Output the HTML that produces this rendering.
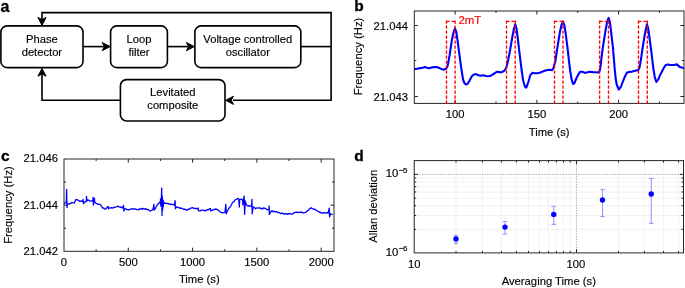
<!DOCTYPE html>
<html><head><meta charset="utf-8"><style>
html,body{margin:0;padding:0;background:#fff;width:685px;height:288px;overflow:hidden}
svg{display:block;will-change:transform}
text{font-family:"Liberation Sans", sans-serif;}
</style></head><body>
<svg width="685" height="288" viewBox="0 0 685 288">
<text x="0.5" y="11.5" font-size="16" text-anchor="start" font-weight="bold" fill="#000" stroke="#000" stroke-width="0.3" >a</text>
<text x="354.3" y="11" font-size="15.5" text-anchor="start" font-weight="bold" fill="#000" stroke="#000" stroke-width="0.3" >b</text>
<text x="0.9" y="161" font-size="15.5" text-anchor="start" font-weight="bold" fill="#000" stroke="#000" stroke-width="0.3" >c</text>
<text x="354.3" y="161" font-size="15.5" text-anchor="start" font-weight="bold" fill="#000" stroke="#000" stroke-width="0.3" >d</text>
<polyline points="42,25.9 42,12.6 331.1,12.6 331.1,100.3 233,100.3" fill="none" stroke="#000" stroke-width="1.6"/>
<line x1="300.8" y1="46.6" x2="331.1" y2="46.6" stroke="#000" stroke-width="1.6" />
<polyline points="120.4,100.3 42,100.3 42,74" fill="none" stroke="#000" stroke-width="1.6"/>
<line x1="83" y1="46.6" x2="104" y2="46.6" stroke="#000" stroke-width="1.6" />
<line x1="167.4" y1="46.6" x2="188" y2="46.6" stroke="#000" stroke-width="1.6" />
<rect x="0.9" y="25.9" width="82.1" height="41.699999999999996" rx="6.2" ry="6.2" fill="#fff" stroke="#000" stroke-width="1.6"/>
<rect x="110.6" y="25.9" width="56.80000000000001" height="41.699999999999996" rx="6.2" ry="6.2" fill="#fff" stroke="#000" stroke-width="1.6"/>
<rect x="194.9" y="25.9" width="105.9" height="41.699999999999996" rx="6.2" ry="6.2" fill="#fff" stroke="#000" stroke-width="1.6"/>
<rect x="120.4" y="79.6" width="104.6" height="41.400000000000006" rx="6.2" ry="6.2" fill="#fff" stroke="#000" stroke-width="1.6"/>
<polygon points="42.00,25.20 37.90,17.40 42.00,19.60 46.10,17.40" fill="#000" stroke="#000" stroke-width="1" stroke-linejoin="miter"/>
<polygon points="42.00,68.40 37.90,76.20 42.00,74.00 46.10,76.20" fill="#000" stroke="#000" stroke-width="1" stroke-linejoin="miter"/>
<polygon points="110.00,46.60 102.20,42.50 104.40,46.60 102.20,50.70" fill="#000" stroke="#000" stroke-width="1" stroke-linejoin="miter"/>
<polygon points="194.20,46.60 186.40,42.50 188.60,46.60 186.40,50.70" fill="#000" stroke="#000" stroke-width="1" stroke-linejoin="miter"/>
<polygon points="225.70,100.30 233.50,96.20 231.30,100.30 233.50,104.40" fill="#000" stroke="#000" stroke-width="1" stroke-linejoin="miter"/>
<text x="41.9" y="42.5" font-size="11.2" text-anchor="middle" font-weight="normal" fill="#000" stroke="#000" stroke-width="0.15" >Phase</text>
<text x="41.9" y="55.6" font-size="11.2" text-anchor="middle" font-weight="normal" fill="#000" stroke="#000" stroke-width="0.15" >detector</text>
<text x="139.0" y="42.5" font-size="11.2" text-anchor="middle" font-weight="normal" fill="#000" stroke="#000" stroke-width="0.15" >Loop</text>
<text x="139.0" y="55.6" font-size="11.2" text-anchor="middle" font-weight="normal" fill="#000" stroke="#000" stroke-width="0.15" >filter</text>
<text x="247.8" y="42.5" font-size="11.2" text-anchor="middle" font-weight="normal" fill="#000" stroke="#000" stroke-width="0.15" >Voltage controlled</text>
<text x="247.8" y="55.6" font-size="11.2" text-anchor="middle" font-weight="normal" fill="#000" stroke="#000" stroke-width="0.15" >oscillator</text>
<text x="172.8" y="95.9" font-size="11.2" text-anchor="middle" font-weight="normal" fill="#000" stroke="#000" stroke-width="0.15" >Levitated</text>
<text x="172.8" y="108.9" font-size="11.2" text-anchor="middle" font-weight="normal" fill="#000" stroke="#000" stroke-width="0.15" >composite</text>
<clipPath id="cb"><rect x="414" y="11" width="270" height="92.4"/></clipPath>
<polyline points="414.00,69.20 417.00,68.70 420.30,68.10 422.80,67.70 424.90,67.00 427.00,67.70 429.10,68.30 431.60,67.50 434.10,67.10 436.60,67.00 438.70,67.70 441.20,68.90 443.25,69.60 444.90,69.30 446.30,68.50 447.40,66.50 448.10,63.50 449.50,56.00 451.90,40.00 453.50,32.50 455.00,28.30 456.30,32.00 457.50,40.00 459.60,56.00 460.60,63.50 461.90,72.25 463.10,79.75 464.40,83.00 465.90,84.50 467.50,84.00 469.40,81.00 470.10,79.50 472.20,75.75 474.25,74.30 476.30,74.30 478.40,75.20 480.50,75.75 483.40,75.30 485.90,76.00 488.00,76.30 490.10,76.00 492.20,74.90 494.70,73.25 496.75,71.80 498.80,72.00 500.90,72.40 503.00,71.60 505.00,70.10 506.50,67.00 507.75,62.00 509.00,55.75 509.75,52.00 512.50,36.00 514.00,28.50 515.25,24.30 516.50,28.50 517.50,36.00 519.40,52.00 520.60,62.00 521.90,72.00 523.10,80.10 524.40,85.10 525.50,87.50 526.30,87.50 527.50,84.50 528.40,81.70 529.40,78.25 530.10,75.40 532.60,72.70 534.70,73.20 537.20,73.30 539.70,72.70 542.20,71.70 544.70,70.80 547.60,70.00 550.10,69.80 552.20,70.20 553.40,68.30 554.70,63.30 555.25,61.90 556.10,56.25 557.00,50.00 559.90,32.00 561.50,25.00 563.00,21.50 564.30,25.00 565.50,32.00 567.75,50.00 569.00,61.25 570.25,71.25 571.50,78.75 573.00,84.00 574.25,83.50 576.20,78.75 578.25,74.60 580.30,71.70 582.40,71.80 584.90,72.90 587.40,72.30 589.50,71.80 592.80,72.10 596.20,72.30 598.70,72.50 599.90,70.00 600.75,65.00 601.50,57.40 602.75,48.00 605.60,30.00 607.20,21.50 608.60,17.90 609.80,21.50 610.90,30.00 613.00,48.00 614.00,60.50 614.80,70.00 615.60,78.00 616.70,84.50 618.75,89.50 620.80,87.00 622.90,81.50 625.00,76.25 627.10,72.60 629.20,71.90 632.30,71.60 635.10,70.75 638.25,70.10 639.50,67.60 640.50,62.00 641.40,56.40 642.00,52.00 644.50,36.00 646.00,28.50 647.00,24.30 648.20,28.50 649.25,36.00 651.40,52.00 652.40,60.75 653.50,69.50 654.75,77.00 656.40,82.00 658.25,79.50 660.10,75.10 662.00,71.40 663.90,67.60 665.75,65.10 668.00,64.50 670.30,65.00 674.00,65.00 676.80,64.40 679.70,66.90 682.50,67.80 684.00,68.00" fill="none" stroke="#0000ff" stroke-width="2.1" stroke-linejoin="round" stroke-linecap="round" clip-path="url(#cb)"/>
<rect x="414.3" y="11.0" width="269.7" height="92.4" fill="none" stroke="#262626" stroke-width="1"/>
<line x1="455.1636363636364" y1="103.4" x2="455.1636363636364" y2="99.80000000000001" stroke="#262626" stroke-width="1" />
<line x1="455.1636363636364" y1="11.0" x2="455.1636363636364" y2="14.6" stroke="#262626" stroke-width="1" />
<line x1="496.02727272727276" y1="103.4" x2="496.02727272727276" y2="101.4" stroke="#262626" stroke-width="1" />
<line x1="496.02727272727276" y1="11.0" x2="496.02727272727276" y2="13.0" stroke="#262626" stroke-width="1" />
<line x1="536.8909090909091" y1="103.4" x2="536.8909090909091" y2="99.80000000000001" stroke="#262626" stroke-width="1" />
<line x1="536.8909090909091" y1="11.0" x2="536.8909090909091" y2="14.6" stroke="#262626" stroke-width="1" />
<line x1="577.7545454545455" y1="103.4" x2="577.7545454545455" y2="101.4" stroke="#262626" stroke-width="1" />
<line x1="577.7545454545455" y1="11.0" x2="577.7545454545455" y2="13.0" stroke="#262626" stroke-width="1" />
<line x1="618.6181818181818" y1="103.4" x2="618.6181818181818" y2="99.80000000000001" stroke="#262626" stroke-width="1" />
<line x1="618.6181818181818" y1="11.0" x2="618.6181818181818" y2="14.6" stroke="#262626" stroke-width="1" />
<line x1="659.4818181818182" y1="103.4" x2="659.4818181818182" y2="101.4" stroke="#262626" stroke-width="1" />
<line x1="659.4818181818182" y1="11.0" x2="659.4818181818182" y2="13.0" stroke="#262626" stroke-width="1" />
<line x1="414.3" y1="25.5" x2="417.90000000000003" y2="25.5" stroke="#262626" stroke-width="1" />
<line x1="684.0" y1="25.5" x2="680.4" y2="25.5" stroke="#262626" stroke-width="1" />
<line x1="414.3" y1="60.5" x2="416.3" y2="60.5" stroke="#262626" stroke-width="1" />
<line x1="684.0" y1="60.5" x2="682.0" y2="60.5" stroke="#262626" stroke-width="1" />
<line x1="414.3" y1="96.5" x2="417.90000000000003" y2="96.5" stroke="#262626" stroke-width="1" />
<line x1="684.0" y1="96.5" x2="680.4" y2="96.5" stroke="#262626" stroke-width="1" />
<path d="M446.5,20.6 L446.5,103.4 M446.5,21.3 L455.1,21.3 M455.1,20.6 L455.1,103.4" fill="none" stroke="#ff0000" stroke-width="1.35" stroke-dasharray="3.1,1.9"/>
<path d="M506.5,20.6 L506.5,103.4 M506.5,21.3 L515.2,21.3 M515.2,20.6 L515.2,103.4" fill="none" stroke="#ff0000" stroke-width="1.35" stroke-dasharray="3.1,1.9"/>
<path d="M554.5,20.6 L554.5,103.4 M554.5,21.3 L563.0,21.3 M563.0,20.6 L563.0,103.4" fill="none" stroke="#ff0000" stroke-width="1.35" stroke-dasharray="3.1,1.9"/>
<path d="M599.6,20.6 L599.6,103.4 M599.6,21.3 L608.5,21.3 M608.5,20.6 L608.5,103.4" fill="none" stroke="#ff0000" stroke-width="1.35" stroke-dasharray="3.1,1.9"/>
<path d="M638.5,20.6 L638.5,103.4 M638.5,21.3 L647.3,21.3 M647.3,20.6 L647.3,103.4" fill="none" stroke="#ff0000" stroke-width="1.35" stroke-dasharray="3.1,1.9"/>
<text x="408" y="30.0" font-size="11.25" text-anchor="end" font-weight="normal" fill="#000" stroke="#000" stroke-width="0.15" >21.044</text>
<text x="408" y="101.0" font-size="11.25" text-anchor="end" font-weight="normal" fill="#000" stroke="#000" stroke-width="0.15" >21.043</text>
<text x="455.1636363636364" y="118.0" font-size="11.25" text-anchor="middle" font-weight="normal" fill="#000" stroke="#000" stroke-width="0.15" >100</text>
<text x="536.8909090909091" y="118.0" font-size="11.25" text-anchor="middle" font-weight="normal" fill="#000" stroke="#000" stroke-width="0.15" >150</text>
<text x="618.6181818181818" y="118.0" font-size="11.25" text-anchor="middle" font-weight="normal" fill="#000" stroke="#000" stroke-width="0.15" >200</text>
<text x="549.2" y="135.8" font-size="11.25" text-anchor="middle" font-weight="normal" fill="#000" stroke="#000" stroke-width="0.15" >Time (s)</text>
<text x="0" y="0" font-size="11.25" text-anchor="middle" font-weight="normal" fill="#000" stroke="#000" stroke-width="0.15" transform="translate(362,56.5) rotate(-90)">Frequency (Hz)</text>
<text x="458.4" y="23.7" font-size="11.4" text-anchor="start" font-weight="normal" fill="#ff0000" stroke="#ff0000" stroke-width="0.15" >2mT</text>
<polyline points="64.40,203.75 65.25,202.50 66.30,202.80 66.60,189.40 67.00,207.50 67.60,204.40 68.40,203.99 69.20,203.58 70.00,203.75 70.83,203.50 71.67,202.45 72.50,202.50 73.45,202.84 74.40,203.10 75.60,199.75 76.43,199.77 77.27,199.60 78.10,200.25 79.05,200.88 80.00,201.50 80.83,200.91 81.67,201.26 82.50,201.25 83.10,199.40 83.50,203.70 84.40,202.50 85.35,201.53 86.30,201.50 86.50,196.50 87.00,200.80 87.50,200.25 88.28,199.99 89.05,200.54 89.82,201.17 90.60,201.00 91.33,200.75 92.07,201.03 92.80,201.50 93.10,197.50 93.40,205.00 94.10,200.00 94.40,198.10 94.80,202.50 95.60,203.10 96.55,203.57 97.50,203.75 98.33,204.46 99.17,204.27 100.00,204.40 100.95,205.54 101.90,206.90 102.73,208.12 103.57,207.80 104.40,209.00 105.33,209.14 106.25,208.50 107.17,207.27 108.10,206.50 108.60,208.80 109.30,208.06 110.00,208.10 110.83,207.61 111.67,207.76 112.50,207.90 113.33,208.03 114.17,207.12 115.00,207.25 115.83,207.01 116.67,206.74 117.50,206.25 118.33,206.44 119.17,206.97 120.00,207.25 120.83,207.05 121.67,207.33 122.50,208.10 123.50,205.50 123.90,211.00 124.50,209.00 125.38,208.73 126.25,209.10 127.08,209.60 127.92,209.62 128.75,210.00 129.54,209.48 130.32,209.47 131.11,209.01 131.90,208.75 132.68,208.59 133.45,209.20 134.22,209.16 135.00,209.00 135.83,208.97 136.67,209.58 137.50,209.75 138.33,209.44 139.17,209.50 140.00,208.75 140.75,209.00 141.50,208.52 142.25,209.28 143.00,208.33 143.75,208.75 144.50,208.83 145.25,209.37 146.00,208.88 146.75,209.42 147.50,209.60 148.28,209.44 149.05,210.49 149.82,210.94 150.60,211.00 151.43,210.41 152.27,210.08 153.10,209.00 153.90,204.40 154.30,210.00 155.60,208.10 156.55,206.05 157.50,204.40 158.45,203.66 159.40,202.50 160.20,202.80 160.50,199.00 160.80,206.00 161.25,202.50 161.70,188.10 162.00,215.60 162.30,196.00 162.60,210.00 163.00,200.00 163.30,206.50 163.50,201.00 163.75,203.50 165.00,203.10 165.83,203.34 166.67,203.45 167.50,203.50 168.33,203.62 169.17,204.21 170.00,204.00 170.83,204.62 171.67,204.24 172.50,204.40 173.45,204.88 174.40,205.00 175.10,200.60 175.40,208.75 176.15,207.34 176.90,206.90 177.68,207.33 178.45,207.49 179.22,208.08 180.00,207.75 180.78,208.42 181.55,208.14 182.32,208.56 183.10,209.00 183.86,209.44 184.62,208.97 185.38,209.71 186.14,209.63 186.90,210.25 187.68,209.45 188.45,209.01 189.22,209.42 190.00,208.75 190.83,208.01 191.67,207.81 192.50,207.75 193.33,207.88 194.17,208.66 195.00,208.50 195.70,208.16 196.40,208.69 197.10,208.93 197.80,209.00 198.10,207.80 198.40,210.60 199.11,210.93 199.82,210.78 200.54,210.74 201.25,210.25 202.00,210.04 202.75,210.22 203.50,210.18 204.25,210.79 205.00,210.40 205.78,210.80 206.55,209.82 207.32,209.74 208.10,210.00 208.90,209.21 209.70,208.71 210.50,208.50 210.80,211.00 211.65,210.48 212.50,210.00 213.33,209.90 214.17,209.34 215.00,209.40 215.83,208.92 216.67,209.44 217.50,209.60 218.33,210.09 219.17,210.94 220.00,211.50 220.83,212.42 221.67,212.54 222.50,212.75 223.33,212.60 224.17,212.55 225.00,212.25 225.80,204.40 226.20,213.75 227.50,210.60 228.33,209.56 229.17,207.64 230.00,206.90 230.83,205.87 231.67,204.27 232.50,202.50 233.33,202.08 234.17,201.16 235.00,200.00 235.83,199.46 236.67,199.06 237.50,198.75 238.75,198.90 239.30,207.00 239.70,199.50 240.60,199.40 241.55,199.26 242.50,200.00 242.90,205.00 243.30,200.00 244.20,196.25 244.60,214.40 245.20,201.00 245.60,202.50 246.90,205.60 247.73,205.96 248.57,205.55 249.40,206.25 250.13,205.86 250.87,206.10 251.60,206.50 251.90,199.40 252.20,213.75 253.10,206.90 253.93,207.15 254.77,207.96 255.60,208.75 256.39,208.10 257.18,207.88 257.96,207.88 258.75,208.10 259.54,207.89 260.32,208.40 261.11,208.25 261.90,209.00 262.82,208.79 263.75,207.75 264.54,208.34 265.32,208.29 266.11,208.86 266.90,209.60 267.85,209.63 268.80,210.00 269.10,206.00 269.40,214.40 270.32,212.60 271.25,211.10 272.04,210.72 272.82,211.56 273.61,211.75 274.40,211.25 275.17,211.53 275.95,211.86 276.73,211.73 277.50,212.50 278.25,212.26 279.00,212.73 279.75,212.84 280.50,213.66 281.25,213.50 282.00,213.18 282.75,213.08 283.50,214.15 284.25,213.73 285.00,213.75 285.83,213.58 286.67,214.23 287.50,214.40 288.33,213.58 289.17,213.83 290.00,213.50 290.83,214.11 291.67,214.07 292.50,213.75 293.33,213.55 294.17,212.65 295.00,212.50 295.75,212.30 296.50,212.03 297.25,212.65 298.00,212.34 298.75,212.25 299.50,212.57 300.25,212.08 301.00,211.98 301.75,212.63 302.50,212.30 303.33,212.90 304.17,212.82 305.00,212.50 305.95,212.21 306.90,211.25 307.73,210.85 308.57,210.01 309.40,209.00 310.32,208.15 311.25,207.90 312.08,208.42 312.92,208.74 313.75,209.40 314.50,209.20 315.25,209.52 316.00,210.12 316.75,210.42 317.50,211.00 318.25,211.51 319.00,212.10 319.75,211.84 320.50,212.68 321.25,212.50 322.00,213.16 322.75,213.24 323.50,212.71 324.25,212.67 325.00,213.10 325.77,212.80 326.55,212.77 327.33,212.77 328.10,213.10 329.20,208.10 329.60,216.90 330.60,213.75 331.43,214.21 332.25,214.40" fill="none" stroke="#0000ff" stroke-width="1.3" stroke-linejoin="round" stroke-linecap="round" />
<rect x="64.0" y="159.0" width="270.0" height="92.30000000000001" fill="none" stroke="#262626" stroke-width="1"/>
<line x1="96.14285714285714" y1="251.3" x2="96.14285714285714" y2="249.3" stroke="#262626" stroke-width="1" />
<line x1="96.14285714285714" y1="159.0" x2="96.14285714285714" y2="161.0" stroke="#262626" stroke-width="1" />
<line x1="128.28571428571428" y1="251.3" x2="128.28571428571428" y2="247.70000000000002" stroke="#262626" stroke-width="1" />
<line x1="128.28571428571428" y1="159.0" x2="128.28571428571428" y2="162.6" stroke="#262626" stroke-width="1" />
<line x1="160.42857142857144" y1="251.3" x2="160.42857142857144" y2="249.3" stroke="#262626" stroke-width="1" />
<line x1="160.42857142857144" y1="159.0" x2="160.42857142857144" y2="161.0" stroke="#262626" stroke-width="1" />
<line x1="192.57142857142858" y1="251.3" x2="192.57142857142858" y2="247.70000000000002" stroke="#262626" stroke-width="1" />
<line x1="192.57142857142858" y1="159.0" x2="192.57142857142858" y2="162.6" stroke="#262626" stroke-width="1" />
<line x1="224.71428571428572" y1="251.3" x2="224.71428571428572" y2="249.3" stroke="#262626" stroke-width="1" />
<line x1="224.71428571428572" y1="159.0" x2="224.71428571428572" y2="161.0" stroke="#262626" stroke-width="1" />
<line x1="256.8571428571429" y1="251.3" x2="256.8571428571429" y2="247.70000000000002" stroke="#262626" stroke-width="1" />
<line x1="256.8571428571429" y1="159.0" x2="256.8571428571429" y2="162.6" stroke="#262626" stroke-width="1" />
<line x1="289.0" y1="251.3" x2="289.0" y2="249.3" stroke="#262626" stroke-width="1" />
<line x1="289.0" y1="159.0" x2="289.0" y2="161.0" stroke="#262626" stroke-width="1" />
<line x1="321.14285714285717" y1="251.3" x2="321.14285714285717" y2="247.70000000000002" stroke="#262626" stroke-width="1" />
<line x1="321.14285714285717" y1="159.0" x2="321.14285714285717" y2="162.6" stroke="#262626" stroke-width="1" />
<line x1="64.0" y1="182.07499999994621" x2="66.0" y2="182.07499999994621" stroke="#262626" stroke-width="1" />
<line x1="334.0" y1="182.07499999994621" x2="332.0" y2="182.07499999994621" stroke="#262626" stroke-width="1" />
<line x1="64.0" y1="205.14999999997443" x2="67.6" y2="205.14999999997443" stroke="#262626" stroke-width="1" />
<line x1="334.0" y1="205.14999999997443" x2="330.4" y2="205.14999999997443" stroke="#262626" stroke-width="1" />
<line x1="64.0" y1="228.22500000000264" x2="66.0" y2="228.22500000000264" stroke="#262626" stroke-width="1" />
<line x1="334.0" y1="228.22500000000264" x2="332.0" y2="228.22500000000264" stroke="#262626" stroke-width="1" />
<text x="58" y="162.3" font-size="11.25" text-anchor="end" font-weight="normal" fill="#000" stroke="#000" stroke-width="0.15" >21.046</text>
<text x="58" y="208.8" font-size="11.25" text-anchor="end" font-weight="normal" fill="#000" stroke="#000" stroke-width="0.15" >21.044</text>
<text x="58" y="254.6" font-size="11.25" text-anchor="end" font-weight="normal" fill="#000" stroke="#000" stroke-width="0.15" >21.042</text>
<text x="64.0" y="266.0" font-size="11.25" text-anchor="middle" font-weight="normal" fill="#000" stroke="#000" stroke-width="0.15" >0</text>
<text x="128.28571428571428" y="266.0" font-size="11.25" text-anchor="middle" font-weight="normal" fill="#000" stroke="#000" stroke-width="0.15" >500</text>
<text x="192.57142857142858" y="266.0" font-size="11.25" text-anchor="middle" font-weight="normal" fill="#000" stroke="#000" stroke-width="0.15" >1000</text>
<text x="256.8571428571429" y="266.0" font-size="11.25" text-anchor="middle" font-weight="normal" fill="#000" stroke="#000" stroke-width="0.15" >1500</text>
<text x="321.14285714285717" y="266.0" font-size="11.25" text-anchor="middle" font-weight="normal" fill="#000" stroke="#000" stroke-width="0.15" >2000</text>
<text x="199.3" y="283.3" font-size="11.25" text-anchor="middle" font-weight="normal" fill="#000" stroke="#000" stroke-width="0.15" >Time (s)</text>
<text x="0" y="0" font-size="11.25" text-anchor="middle" font-weight="normal" fill="#000" stroke="#000" stroke-width="0.15" transform="translate(11.6,205) rotate(-90)">Frequency (Hz)</text>
<line x1="456" y1="160.6" x2="456" y2="252.9" stroke="#ececec" stroke-width="0.7" />
<line x1="482.4" y1="160.6" x2="482.4" y2="252.9" stroke="#ececec" stroke-width="0.7" />
<line x1="501.4" y1="160.6" x2="501.4" y2="252.9" stroke="#ececec" stroke-width="0.7" />
<line x1="516.4" y1="160.6" x2="516.4" y2="252.9" stroke="#ececec" stroke-width="0.7" />
<line x1="528.5" y1="160.6" x2="528.5" y2="252.9" stroke="#ececec" stroke-width="0.7" />
<line x1="539.5" y1="160.6" x2="539.5" y2="252.9" stroke="#ececec" stroke-width="0.7" />
<line x1="548.5" y1="160.6" x2="548.5" y2="252.9" stroke="#ececec" stroke-width="0.7" />
<line x1="556.4" y1="160.6" x2="556.4" y2="252.9" stroke="#ececec" stroke-width="0.7" />
<line x1="563.5" y1="160.6" x2="563.5" y2="252.9" stroke="#ececec" stroke-width="0.7" />
<line x1="570.2" y1="160.6" x2="570.2" y2="252.9" stroke="#ececec" stroke-width="0.7" />
<line x1="618.5" y1="160.6" x2="618.5" y2="252.9" stroke="#ececec" stroke-width="0.7" />
<line x1="644.4" y1="160.6" x2="644.4" y2="252.9" stroke="#ececec" stroke-width="0.7" />
<line x1="663.5" y1="160.6" x2="663.5" y2="252.9" stroke="#ececec" stroke-width="0.7" />
<line x1="678.5" y1="160.6" x2="678.5" y2="252.9" stroke="#ececec" stroke-width="0.7" />
<line x1="414.2" y1="229.4" x2="683.5" y2="229.4" stroke="#ececec" stroke-width="0.7" />
<line x1="414.2" y1="215.5" x2="683.5" y2="215.5" stroke="#ececec" stroke-width="0.7" />
<line x1="414.2" y1="205.7" x2="683.5" y2="205.7" stroke="#ececec" stroke-width="0.7" />
<line x1="414.2" y1="198.2" x2="683.5" y2="198.2" stroke="#ececec" stroke-width="0.7" />
<line x1="414.2" y1="192.0" x2="683.5" y2="192.0" stroke="#ececec" stroke-width="0.7" />
<line x1="414.2" y1="186.6" x2="683.5" y2="186.6" stroke="#ececec" stroke-width="0.7" />
<line x1="414.2" y1="182.1" x2="683.5" y2="182.1" stroke="#ececec" stroke-width="0.7" />
<line x1="414.2" y1="178.1" x2="683.5" y2="178.1" stroke="#ececec" stroke-width="0.7" />
<line x1="576.5" y1="160.6" x2="576.5" y2="252.9" stroke="#9a9a9a" stroke-width="0.8" stroke-dasharray="1.4,1.2"/>
<line x1="414.2" y1="174.4" x2="683.5" y2="174.4" stroke="#9a9a9a" stroke-width="0.8" stroke-dasharray="1.4,1.2"/>
<rect x="414.2" y="160.6" width="269.3" height="92.30000000000001" fill="none" stroke="#262626" stroke-width="1"/>
<line x1="456" y1="252.9" x2="456" y2="250.9" stroke="#262626" stroke-width="1" />
<line x1="456" y1="160.6" x2="456" y2="162.6" stroke="#262626" stroke-width="1" />
<line x1="482.4" y1="252.9" x2="482.4" y2="250.9" stroke="#262626" stroke-width="1" />
<line x1="482.4" y1="160.6" x2="482.4" y2="162.6" stroke="#262626" stroke-width="1" />
<line x1="501.4" y1="252.9" x2="501.4" y2="250.9" stroke="#262626" stroke-width="1" />
<line x1="501.4" y1="160.6" x2="501.4" y2="162.6" stroke="#262626" stroke-width="1" />
<line x1="516.4" y1="252.9" x2="516.4" y2="250.9" stroke="#262626" stroke-width="1" />
<line x1="516.4" y1="160.6" x2="516.4" y2="162.6" stroke="#262626" stroke-width="1" />
<line x1="528.5" y1="252.9" x2="528.5" y2="250.9" stroke="#262626" stroke-width="1" />
<line x1="528.5" y1="160.6" x2="528.5" y2="162.6" stroke="#262626" stroke-width="1" />
<line x1="539.5" y1="252.9" x2="539.5" y2="250.9" stroke="#262626" stroke-width="1" />
<line x1="539.5" y1="160.6" x2="539.5" y2="162.6" stroke="#262626" stroke-width="1" />
<line x1="548.5" y1="252.9" x2="548.5" y2="250.9" stroke="#262626" stroke-width="1" />
<line x1="548.5" y1="160.6" x2="548.5" y2="162.6" stroke="#262626" stroke-width="1" />
<line x1="556.4" y1="252.9" x2="556.4" y2="250.9" stroke="#262626" stroke-width="1" />
<line x1="556.4" y1="160.6" x2="556.4" y2="162.6" stroke="#262626" stroke-width="1" />
<line x1="563.5" y1="252.9" x2="563.5" y2="250.9" stroke="#262626" stroke-width="1" />
<line x1="563.5" y1="160.6" x2="563.5" y2="162.6" stroke="#262626" stroke-width="1" />
<line x1="570.2" y1="252.9" x2="570.2" y2="250.9" stroke="#262626" stroke-width="1" />
<line x1="570.2" y1="160.6" x2="570.2" y2="162.6" stroke="#262626" stroke-width="1" />
<line x1="618.5" y1="252.9" x2="618.5" y2="250.9" stroke="#262626" stroke-width="1" />
<line x1="618.5" y1="160.6" x2="618.5" y2="162.6" stroke="#262626" stroke-width="1" />
<line x1="644.4" y1="252.9" x2="644.4" y2="250.9" stroke="#262626" stroke-width="1" />
<line x1="644.4" y1="160.6" x2="644.4" y2="162.6" stroke="#262626" stroke-width="1" />
<line x1="663.5" y1="252.9" x2="663.5" y2="250.9" stroke="#262626" stroke-width="1" />
<line x1="663.5" y1="160.6" x2="663.5" y2="162.6" stroke="#262626" stroke-width="1" />
<line x1="678.5" y1="252.9" x2="678.5" y2="250.9" stroke="#262626" stroke-width="1" />
<line x1="678.5" y1="160.6" x2="678.5" y2="162.6" stroke="#262626" stroke-width="1" />
<line x1="576.5" y1="252.9" x2="576.5" y2="249.3" stroke="#262626" stroke-width="1" />
<line x1="576.5" y1="160.6" x2="576.5" y2="164.2" stroke="#262626" stroke-width="1" />
<line x1="414.2" y1="229.4" x2="416.2" y2="229.4" stroke="#262626" stroke-width="1" />
<line x1="683.5" y1="229.4" x2="681.5" y2="229.4" stroke="#262626" stroke-width="1" />
<line x1="414.2" y1="215.5" x2="416.2" y2="215.5" stroke="#262626" stroke-width="1" />
<line x1="683.5" y1="215.5" x2="681.5" y2="215.5" stroke="#262626" stroke-width="1" />
<line x1="414.2" y1="205.7" x2="416.2" y2="205.7" stroke="#262626" stroke-width="1" />
<line x1="683.5" y1="205.7" x2="681.5" y2="205.7" stroke="#262626" stroke-width="1" />
<line x1="414.2" y1="198.2" x2="416.2" y2="198.2" stroke="#262626" stroke-width="1" />
<line x1="683.5" y1="198.2" x2="681.5" y2="198.2" stroke="#262626" stroke-width="1" />
<line x1="414.2" y1="192.0" x2="416.2" y2="192.0" stroke="#262626" stroke-width="1" />
<line x1="683.5" y1="192.0" x2="681.5" y2="192.0" stroke="#262626" stroke-width="1" />
<line x1="414.2" y1="186.6" x2="416.2" y2="186.6" stroke="#262626" stroke-width="1" />
<line x1="683.5" y1="186.6" x2="681.5" y2="186.6" stroke="#262626" stroke-width="1" />
<line x1="414.2" y1="182.1" x2="416.2" y2="182.1" stroke="#262626" stroke-width="1" />
<line x1="683.5" y1="182.1" x2="681.5" y2="182.1" stroke="#262626" stroke-width="1" />
<line x1="414.2" y1="178.1" x2="416.2" y2="178.1" stroke="#262626" stroke-width="1" />
<line x1="683.5" y1="178.1" x2="681.5" y2="178.1" stroke="#262626" stroke-width="1" />
<line x1="414.2" y1="174.4" x2="417.8" y2="174.4" stroke="#262626" stroke-width="1" />
<line x1="683.5" y1="174.4" x2="679.9" y2="174.4" stroke="#262626" stroke-width="1" />
<line x1="456" y1="235.4" x2="456" y2="243.5" stroke="#9090ff" stroke-width="1" />
<line x1="453.8" y1="235.4" x2="458.2" y2="235.4" stroke="#9090ff" stroke-width="1" />
<line x1="453.8" y1="243.5" x2="458.2" y2="243.5" stroke="#9090ff" stroke-width="1" />
<line x1="505" y1="221.5" x2="505" y2="234.1" stroke="#9090ff" stroke-width="1" />
<line x1="502.8" y1="221.5" x2="507.2" y2="221.5" stroke="#9090ff" stroke-width="1" />
<line x1="502.8" y1="234.1" x2="507.2" y2="234.1" stroke="#9090ff" stroke-width="1" />
<line x1="553.75" y1="206.25" x2="553.75" y2="224.4" stroke="#9090ff" stroke-width="1" />
<line x1="551.55" y1="206.25" x2="555.95" y2="206.25" stroke="#9090ff" stroke-width="1" />
<line x1="551.55" y1="224.4" x2="555.95" y2="224.4" stroke="#9090ff" stroke-width="1" />
<line x1="602.5" y1="189.4" x2="602.5" y2="216.5" stroke="#9090ff" stroke-width="1" />
<line x1="600.3" y1="189.4" x2="604.7" y2="189.4" stroke="#9090ff" stroke-width="1" />
<line x1="600.3" y1="216.5" x2="604.7" y2="216.5" stroke="#9090ff" stroke-width="1" />
<line x1="651.25" y1="178.4" x2="651.25" y2="223.4" stroke="#9090ff" stroke-width="1" />
<line x1="649.05" y1="178.4" x2="653.45" y2="178.4" stroke="#9090ff" stroke-width="1" />
<line x1="649.05" y1="223.4" x2="653.45" y2="223.4" stroke="#9090ff" stroke-width="1" />
<circle cx="456" cy="239" r="2.7" fill="#0000ff"/>
<circle cx="505" cy="227.1" r="2.7" fill="#0000ff"/>
<circle cx="553.75" cy="214.4" r="2.7" fill="#0000ff"/>
<circle cx="602.5" cy="200" r="2.7" fill="#0000ff"/>
<circle cx="651.25" cy="194" r="2.7" fill="#0000ff"/>
<text x="398.3" y="177.3" font-size="11.25" text-anchor="end" font-weight="normal" fill="#000" stroke="#000" stroke-width="0.15" >10</text>
<line x1="399.0" y1="170.4" x2="403.6" y2="170.4" stroke="#000" stroke-width="0.85" />
<text x="403.0" y="172.9" font-size="8" text-anchor="start" font-weight="normal" fill="#000" stroke="#000" stroke-width="0.15" >5</text>
<text x="398.3" y="255.6" font-size="11.25" text-anchor="end" font-weight="normal" fill="#000" stroke="#000" stroke-width="0.15" >10</text>
<line x1="399.0" y1="248.4" x2="403.6" y2="248.4" stroke="#000" stroke-width="0.85" />
<text x="403.0" y="250.9" font-size="8" text-anchor="start" font-weight="normal" fill="#000" stroke="#000" stroke-width="0.15" >6</text>
<text x="414.2" y="267.6" font-size="11.25" text-anchor="middle" font-weight="normal" fill="#000" stroke="#000" stroke-width="0.15" >10</text>
<text x="576.0" y="268.0" font-size="11.25" text-anchor="middle" font-weight="normal" fill="#000" stroke="#000" stroke-width="0.15" >100</text>
<text x="548.8" y="284.9" font-size="11.25" text-anchor="middle" font-weight="normal" fill="#000" stroke="#000" stroke-width="0.15" >Averaging Time (s)</text>
<text x="0" y="0" font-size="11.25" text-anchor="middle" font-weight="normal" fill="#000" stroke="#000" stroke-width="0.15" transform="translate(377.2,206.2) rotate(-90)">Allan deviation</text>
</svg>
</body></html>
